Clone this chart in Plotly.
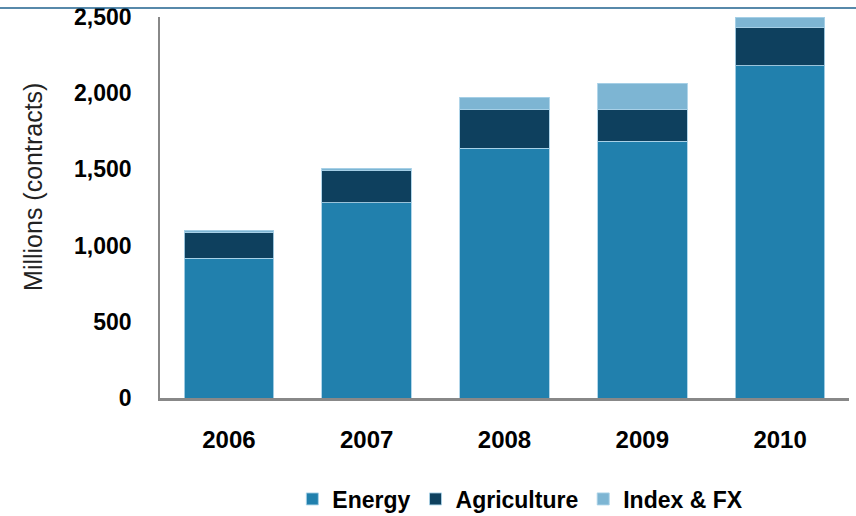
import plotly.graph_objects as go

years = ["2006", "2007", "2008", "2009", "2010"]
energy = [917, 1280, 1640, 1686, 2180]
agriculture = [170, 210, 252, 208, 248]
index_fx = [15, 19, 81, 171, 72]

y_ticks = [0, 500, 1000, 1500, 2000, 2500]
y_ticktext = ["0", "500", "1,000", "1,500", "2,000", "2,500"]

FONT = "Liberation Sans, Arial, sans-serif"
edge = dict(color="rgba(170,210,232,0.9)", width=1)

fig = go.Figure()
fig.add_trace(go.Bar(name="Energy", x=years, y=energy,
                     marker=dict(color="#2180AD", line=edge)))
fig.add_trace(go.Bar(name="Agriculture", x=years, y=agriculture,
                     marker=dict(color="#0E405E", line=edge)))
fig.add_trace(go.Bar(name="Index & FX", x=years, y=index_fx,
                     marker=dict(color="#7DB5D3", line=edge)))

fig.update_layout(
    barmode="stack",
    bargap=0.35,
    width=856, height=516,
    margin=dict(l=160, r=7, t=17, b=118, autoexpand=False),
    paper_bgcolor="white",
    plot_bgcolor="white",
    font=dict(family=FONT, color="black"),
    showlegend=True,
    legend=dict(
        orientation="h",
        x=0.523, xanchor="center",
        yref="container",
        y=0.033, yanchor="middle",
        font=dict(family=FONT, size=23, weight="bold", color="black"),
        itemwidth=30,
        tracegroupgap=0,
        traceorder="normal",
    ),
    xaxis=dict(
        type="category",
        range=[-0.5, 4.5],
        showline=True, linecolor="#888888", linewidth=2.5,
        showgrid=False, ticks="",
        tickfont=dict(family=FONT, size=24, weight="bold", color="black"),
        ticklabelstandoff=18,
    ),
    yaxis=dict(
        range=[0, 2500],
        showline=True, linecolor="#888888", linewidth=1.5,
        showgrid=False, zeroline=False, ticks="",
        tickvals=y_ticks, ticktext=y_ticktext,
        tickfont=dict(family=FONT, size=23, weight="bold", color="black"),
        ticklabelstandoff=22,
    ),
    shapes=[dict(
        type="line", xref="paper", yref="paper",
        x0=-0.25, x1=1.05, y0=1.0236, y1=1.0236,
        line=dict(color="#1F628E", width=1.5),
    )],
    annotations=[dict(
        text="Millions (contracts)",
        xref="paper", yref="paper",
        x=0, y=0.554, xanchor="center", yanchor="middle",
        xshift=-127, textangle=-90, showarrow=False,
        font=dict(family=FONT, size=25, color="#222222"),
    )],
)

fig.write_html("out.html")
